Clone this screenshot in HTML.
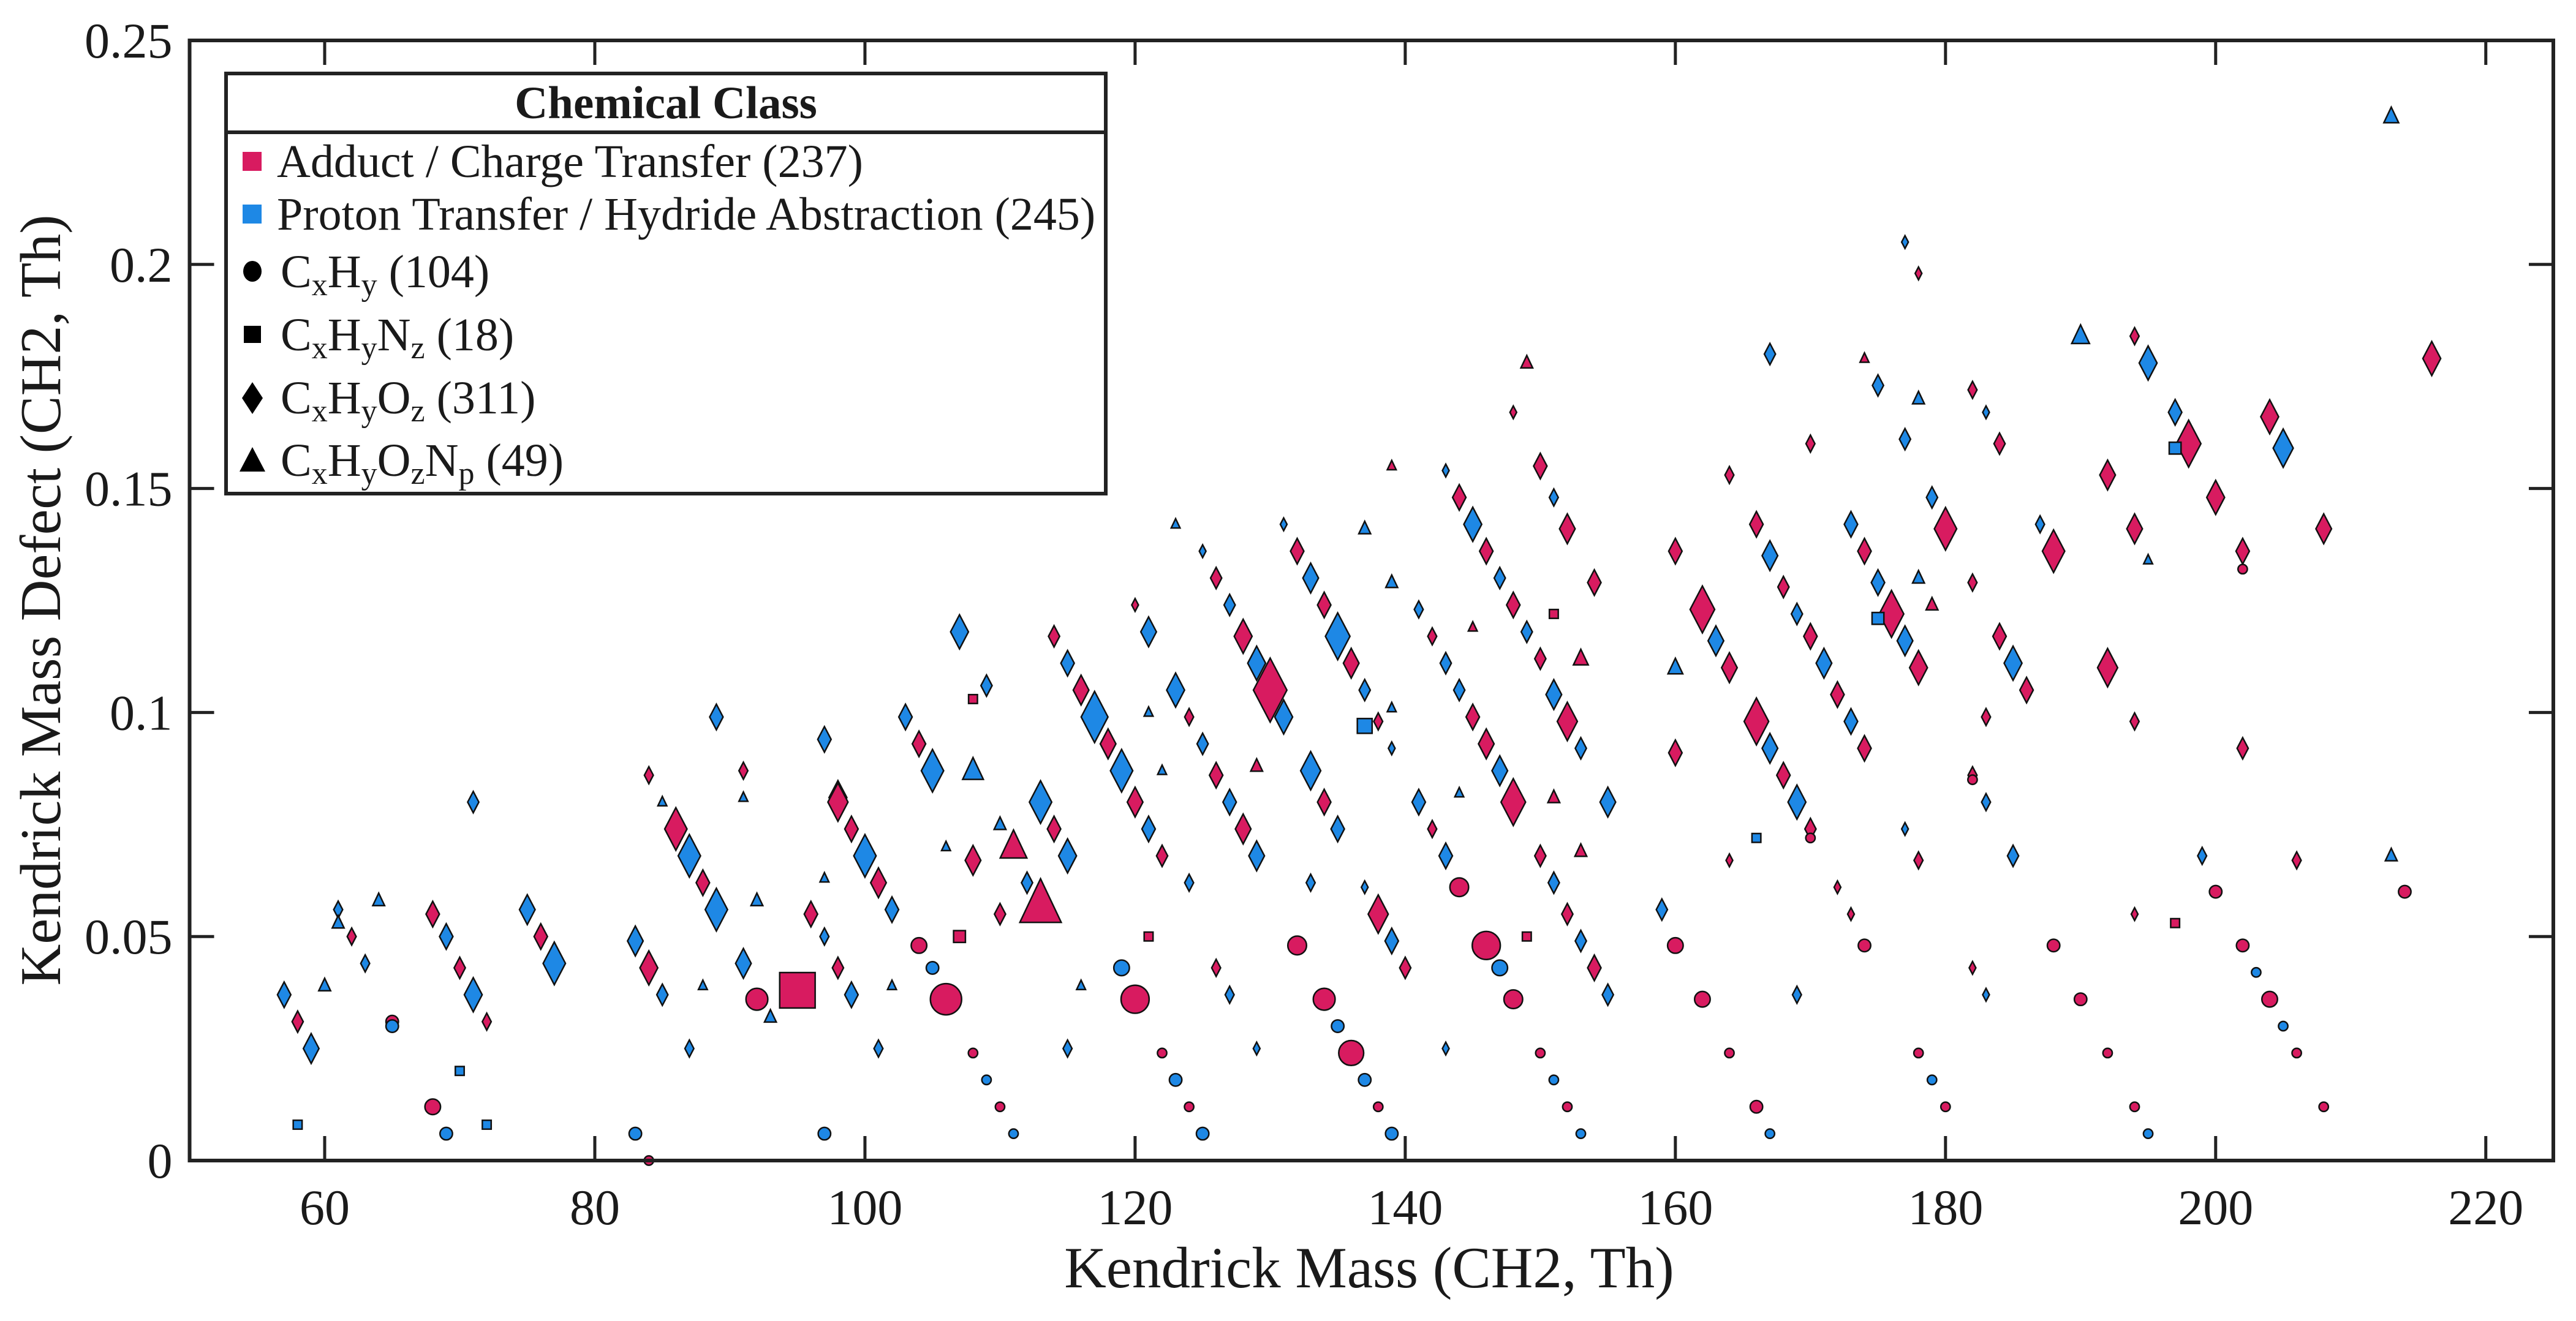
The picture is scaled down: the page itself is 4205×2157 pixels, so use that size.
<!DOCTYPE html>
<html><head><meta charset="utf-8"><style>
html,body{margin:0;padding:0;background:#fff}
svg{display:block}
text{font-family:"Liberation Serif",serif;fill:#1a1a1a}
</style></head><body>
<svg id="chart" width="4205" height="2157" viewBox="0 0 4205 2157" xmlns="http://www.w3.org/2000/svg">
<g id="marks"></g>
<g id="axes"></g>
<g id="legend">
  <rect x="369" y="120" width="1436" height="686" fill="#fff" stroke="#222" stroke-width="6"/>
  <line x1="369" y1="216" x2="1805" y2="216" stroke="#222" stroke-width="6"/>
  <text x="1087" y="193" text-anchor="middle" font-size="75" font-weight="bold">Chemical Class</text>
  <rect x="396" y="248" width="31" height="31" fill="#D81B60"/>
  <text x="452" y="289" font-size="76">Adduct / Charge Transfer (237)</text>
  <rect x="396" y="334" width="31" height="31" fill="#1E88E5"/>
  <text x="452" y="375" font-size="76">Proton Transfer / Hydride Abstraction (245)</text>
  <ellipse cx="412" cy="443" rx="15" ry="17" fill="#000"/>
  <text x="458" y="469" font-size="76">C<tspan font-size="52" dy="13">x</tspan><tspan dy="-13">H</tspan><tspan font-size="52" dy="13">y</tspan><tspan dy="-13"> (104)</tspan></text>
  <rect x="398" y="532" width="28" height="28" fill="#000"/>
  <text x="458" y="572" font-size="76">C<tspan font-size="52" dy="13">x</tspan><tspan dy="-13">H</tspan><tspan font-size="52" dy="13">y</tspan><tspan dy="-13">N</tspan><tspan font-size="52" dy="13">z</tspan><tspan dy="-13"> (18)</tspan></text>
  <polygon points="412,624 429,650 412,676 395,650" fill="#000"/>
  <text x="458" y="675" font-size="76">C<tspan font-size="52" dy="13">x</tspan><tspan dy="-13">H</tspan><tspan font-size="52" dy="13">y</tspan><tspan dy="-13">O</tspan><tspan font-size="52" dy="13">z</tspan><tspan dy="-13"> (311)</tspan></text>
  <polygon points="412,730 433,770 391,770" fill="#000"/>
  <text x="458" y="777" font-size="76">C<tspan font-size="52" dy="13">x</tspan><tspan dy="-13">H</tspan><tspan font-size="52" dy="13">y</tspan><tspan dy="-13">O</tspan><tspan font-size="52" dy="13">z</tspan><tspan dy="-13">N</tspan><tspan font-size="52" dy="13">p</tspan><tspan dy="-13"> (49)</tspan></text>
</g>
<text x="2235" y="2102" text-anchor="middle" font-size="95">Kendrick Mass (CH2, Th)</text>
<text x="0" y="0" transform="translate(98,980) rotate(-90)" text-anchor="middle" font-size="94">Kendrick Mass Defect (CH2, Th)</text>
</svg>
<script>
const xTicks=[60,80,100,120,140,160,180,200,220];
const yTicks=[0,0.05,0.1,0.15,0.2,0.25];
const yTickLabels=["0","0.05","0.1","0.15","0.2","0.25"];
// points: mass, defect, class (0 adduct, 1 proton), shape (c,s,d,t), marker size
const pts=[
[57,.037,1,'d',6],[58,.031,0,'d',5],[59,.025,1,'d',7],[58,.008,1,'s',3],[60,.039,1,'t',4],[61,.056,1,'d',4],[61,.053,1,'t',4],[62,.050,0,'d',4],[63,.044,1,'d',4],[64,.058,1,'t',4],[65,.031,0,'c',4],[65,.030,1,'c',4],
[68,.055,0,'d',6],[69,.050,1,'d',6],[70,.043,0,'d',5],[71,.037,1,'d',8],[72,.031,0,'d',4],[68,.012,0,'c',5],[69,.006,1,'c',4],[70,.020,1,'s',3],[72,.008,1,'s',3],[71,.080,1,'d',5],
[75,.056,1,'d',7],[76,.050,0,'d',6],[77,.044,1,'d',10],[83,.049,1,'d',7],[84,.043,0,'d',8],[85,.037,1,'d',5],[84,.086,0,'d',4],[85,.080,1,'t',3],[86,.074,0,'d',10],[87,.068,1,'d',10],[88,.062,0,'d',6],[89,.056,1,'d',10],[87,.025,1,'d',4],[88,.039,1,'t',3],[83,.006,1,'c',4],[84,.0,0,'c',3],[89,.099,1,'d',6],
[91,.087,0,'d',4],[91,.081,1,'t',3],[91,.044,1,'d',7],[92,.058,1,'t',4],[92,.036,0,'c',7],[93,.032,1,'t',4],[95,.038,0,'s',12],[96,.055,0,'d',6],[97,.050,1,'d',4],[98,.043,0,'d',5],[97,.063,1,'t',3],[97,.094,1,'d',6],[98,.081,1,'d',8],[98,.080,0,'d',9],[99,.074,0,'d',6],[99,.037,1,'d',6],[100,.068,1,'d',10],[101,.062,0,'d',7],[102,.056,1,'d',6],[97,.006,1,'c',4],[101,.025,1,'d',4],[102,.039,1,'t',3],[103,.099,1,'d',6],[104,.093,0,'d',6],[105,.087,1,'d',10],[104,.048,0,'c',5],[106,.036,0,'c',10],[105,.043,1,'c',4],
[107,.118,1,'d',8],[106,.070,1,'t',3],[107,.050,0,'s',4],[108,.067,0,'d',7],[108,.087,1,'t',7],[108,.103,0,'s',3],[109,.106,1,'d',5],[108,.024,0,'c',3],[109,.018,1,'c',3],[110,.012,0,'c',3],[111,.006,1,'c',3],[110,.055,0,'d',5],[110,.075,1,'t',4],[111,.070,0,'t',9],[112,.062,1,'d',5],[113,.057,0,'t',14],[113,.080,1,'d',10],[114,.074,0,'d',6],[115,.068,1,'d',8],[115,.025,1,'d',4],[116,.039,1,'t',3],
[114,.117,0,'d',5],[115,.111,1,'d',6],[116,.105,0,'d',7],[117,.099,1,'d',12],[118,.093,0,'d',7],[119,.087,1,'d',10],[120,.080,0,'d',7],[120,.036,0,'c',9],[119,.043,1,'c',5],[121,.074,1,'d',6],[120,.124,0,'d',3],[121,.118,1,'d',7],[121,.100,1,'t',3],[121,.050,0,'s',3],[122,.068,0,'d',5],[122,.087,1,'t',3],[122,.024,0,'c',3],[123,.018,1,'c',4],[124,.012,0,'c',3],[125,.006,1,'c',4],[123,.142,1,'t',3],[123,.105,1,'d',8],[124,.099,0,'d',4],[124,.062,1,'d',4],[125,.093,1,'d',5],[125,.136,1,'d',3],[126,.130,0,'d',5],[126,.086,0,'d',6],[127,.124,1,'d',5],[127,.080,1,'d',6],[128,.117,0,'d',8],[128,.074,0,'d',7],[126,.043,0,'d',4],[127,.037,1,'d',4],[129,.111,1,'d',8],[129,.068,1,'d',7],[129,.088,0,'t',4],[129,.025,1,'d',3],
[130,.105,0,'d',15],[131,.099,1,'d',8],[131,.142,1,'d',3],[132,.136,0,'d',6],[133,.130,1,'d',7],[133,.087,1,'d',9],[132,.048,0,'c',6],[133,.062,1,'d',4],[134,.124,0,'d',6],[134,.080,0,'d',6],[134,.036,0,'c',7],[135,.117,1,'d',11],[135,.074,1,'d',6],[135,.030,1,'c',4],[136,.111,0,'d',7],[136,.024,0,'c',8],[137,.105,1,'d',5],[137,.018,1,'c',4],[138,.012,0,'c',3],[139,.006,1,'c',4],[137,.097,1,'s',5],[138,.098,0,'d',4],[137,.061,1,'d',3],[138,.055,0,'d',9],[139,.049,1,'d',6],[140,.043,0,'d',5],[139,.092,1,'d',3],[137,.141,1,'t',4],[139,.155,0,'t',3],[139,.129,1,'t',4],[139,.101,1,'t',3],
[141,.123,1,'d',4],[142,.117,0,'d',4],[143,.111,1,'d',5],[143,.154,1,'d',3],[144,.148,0,'d',6],[145,.142,1,'d',8],[146,.136,0,'d',6],[147,.130,1,'d',5],[141,.080,1,'d',6],[142,.074,0,'d',4],[143,.068,1,'d',6],[144,.061,0,'c',6],[144,.105,1,'d',5],[145,.099,0,'d',6],[146,.093,0,'d',7],[147,.087,1,'d',7],[148,.080,0,'d',11],[146,.048,0,'c',9],[147,.043,1,'c',5],[148,.036,0,'c',6],[143,.025,1,'d',3],[144,.082,1,'t',3],[145,.119,0,'t',3],[148,.124,0,'d',6],[149,.118,1,'d',5],[148,.167,0,'d',3],[149,.178,0,'t',4],[150,.155,0,'d',6],[151,.148,1,'d',4],[152,.141,0,'d',7],[150,.112,0,'d',5],[151,.104,1,'d',7],[152,.098,0,'d',9],[150,.068,0,'d',5],[151,.062,1,'d',5],[151,.122,0,'s',3],[151,.081,0,'t',4],[153,.092,1,'d',5],[153,.112,0,'t',5],[153,.069,0,'t',4],[149,.050,0,'s',3],[150,.024,0,'c',3],[151,.018,1,'c',3],[152,.012,0,'c',3],[153,.006,1,'c',3],[152,.055,0,'d',5],[153,.049,1,'d',5],[154,.043,0,'d',6],[155,.037,1,'d',5],[154,.129,0,'d',6],[155,.080,1,'d',7],
[159,.056,1,'d',5],[160,.110,1,'t',5],[160,.136,0,'d',6],[160,.091,0,'d',6],[160,.048,0,'c',5],[162,.036,0,'c',5],[164,.024,0,'c',3],[166,.012,0,'c',4],[167,.006,1,'c',3],[162,.123,0,'d',11],[163,.116,1,'d',7],[164,.110,0,'d',7],[164,.153,0,'d',4],[164,.067,0,'d',3],[166,.142,0,'d',6],[166,.098,0,'d',11],[167,.092,1,'d',7],[166,.072,1,'s',3],[167,.180,1,'d',5],[167,.135,1,'d',7],[168,.128,0,'d',5],[168,.086,0,'d',6],[169,.122,1,'d',5],[169,.080,1,'d',8],[170,.117,0,'d',6],[170,.074,0,'d',5],[170,.072,0,'c',3],[169,.037,1,'d',4],[170,.160,0,'d',4],[171,.111,1,'d',7],[172,.104,0,'d',6],[172,.061,0,'d',3],[173,.142,1,'d',6],[173,.098,1,'d',6],[174,.136,0,'d',6],[174,.092,0,'d',6],[173,.055,0,'d',3],[174,.048,0,'c',4],[174,.179,0,'t',3],[175,.173,1,'d',5],[175,.129,1,'d',6],[176,.122,0,'d',11],[175,.121,1,'s',4],[177,.116,1,'d',7],[178,.110,0,'d',8],[177,.161,1,'d',5],[177,.205,1,'d',3],[178,.198,0,'d',3],[178,.170,1,'t',4],[178,.130,1,'t',4],[179,.124,0,'t',4],[177,.074,1,'d',3],[178,.067,0,'d',4],[178,.024,0,'c',3],[179,.018,1,'c',3],[180,.012,0,'c',3],[179,.148,1,'d',5],[180,.141,0,'d',10],
[182,.172,0,'d',4],[183,.167,1,'d',3],[184,.160,0,'d',5],[182,.129,0,'d',4],[184,.117,0,'d',6],[185,.111,1,'d',8],[186,.105,0,'d',6],[182,.086,0,'d',4],[182,.085,0,'c',3],[183,.080,1,'d',4],[183,.099,0,'d',4],[182,.043,0,'d',3],[183,.037,1,'d',3],[185,.068,1,'d',5],[187,.142,1,'d',4],[188,.136,0,'d',10],[188,.048,0,'c',4],[190,.036,0,'c',4],[192,.024,0,'c',3],[194,.012,0,'c',3],[195,.006,1,'c',3],[190,.184,1,'t',6],[192,.153,0,'d',7],[192,.110,0,'d',9],[194,.184,0,'d',4],[195,.178,1,'d',8],[194,.141,0,'d',7],[195,.134,1,'t',3],[194,.098,0,'d',4],[194,.055,0,'d',3],[197,.167,1,'d',6],[198,.160,0,'d',11],[197,.159,1,'s',4],[197,.053,0,'s',3],[199,.068,1,'d',4],[200,.148,0,'d',8],[200,.060,0,'c',4],[202,.136,0,'d',6],[202,.132,0,'c',3],[202,.092,0,'d',5],[202,.048,0,'c',4],[203,.042,1,'c',3],[204,.166,0,'d',8],[204,.036,0,'c',5],[205,.159,1,'d',9],[205,.030,1,'c',3],[206,.024,0,'c',3],[206,.067,0,'d',4],[208,.141,0,'d',7],[208,.012,0,'c',3],[213,.233,1,'t',5],[213,.068,1,'t',4],[214,.060,0,'c',4],[216,.179,0,'d',8]
];
const X0=309.5,X1=4168,Y0=1895,Y1=66,xmin=50,xmax=225,ymin=0,ymax=0.25;
function sx(v){return X0+(v-xmin)/(xmax-xmin)*(X1-X0);}
function sy(v){return Y0-(v-ymin)/(ymax-ymin)*(Y0-Y1);}
const NS="http://www.w3.org/2000/svg";
function mk(tag,attrs,parent){const e=document.createElementNS(NS,tag);for(const k in attrs)e.setAttribute(k,attrs[k]);parent.appendChild(e);return e;}
const colors=["#D81B60","#1E88E5"];
const marks=document.getElementById('marks');
const shapeNames={c:'circle',s:'square',d:'diamond',t:'triangle'};
pts.forEach(p=>{
  const cx=sx(p[0]),cy=sy(p[1]),r=p[4]*2.68,fill=colors[p[2]];
  let e;
  const st={fill:fill,stroke:"#111","stroke-width":2.5};
  if(p[3]==='c'){e=mk('circle',Object.assign({cx:cx,cy:cy,r:r*0.95},st),marks);}
  else if(p[3]==='s'){e=mk('rect',Object.assign({x:cx-r*0.9,y:cy-r*0.9,width:r*1.8,height:r*1.8},st),marks);}
  else if(p[3]==='d'){const w=r*0.68;e=mk('polygon',Object.assign({points:`${cx},${cy-r*1.3} ${cx+w},${cy} ${cx},${cy+r*1.3} ${cx-w},${cy}`},st),marks);}
  else {const w=r*0.9;e=mk('polygon',Object.assign({points:`${cx},${cy-r*1.15} ${cx+w},${cy+r*0.75} ${cx-w},${cy+r*0.75}`},st),marks);}
  
  
});
const axes=document.getElementById('axes');
const frame=mk('rect',{x:X0,y:Y1,width:X1-X0,height:Y0-Y1,fill:"none",stroke:"#222","stroke-width":6},axes);


xTicks.forEach(v=>{
  const x=sx(v);
  const t1=mk('line',{x1:x,y1:Y0,x2:x,y2:Y0-40,stroke:"#222","stroke-width":5},axes);
  
  
  const t2=mk('line',{x1:x,y1:Y1,x2:x,y2:Y1+40,stroke:"#222","stroke-width":5},axes);
  
  
  const l=mk('text',{x:x,y:Y0+104,"text-anchor":"middle","font-size":82},axes);
  l.textContent=v;
  
  
});
yTicks.forEach((v,i)=>{
  const y=sy(v);
  const t1=mk('line',{x1:X0,y1:y,x2:X0+40,y2:y,stroke:"#222","stroke-width":5},axes);
  
  
  const t2=mk('line',{x1:X1,y1:y,x2:X1-40,y2:y,stroke:"#222","stroke-width":5},axes);
  
  
  const l=mk('text',{x:X0-28,y:y+28,"text-anchor":"end","font-size":82},axes);
  l.textContent=yTickLabels[i];
  
  
});
</script>
</body></html>
